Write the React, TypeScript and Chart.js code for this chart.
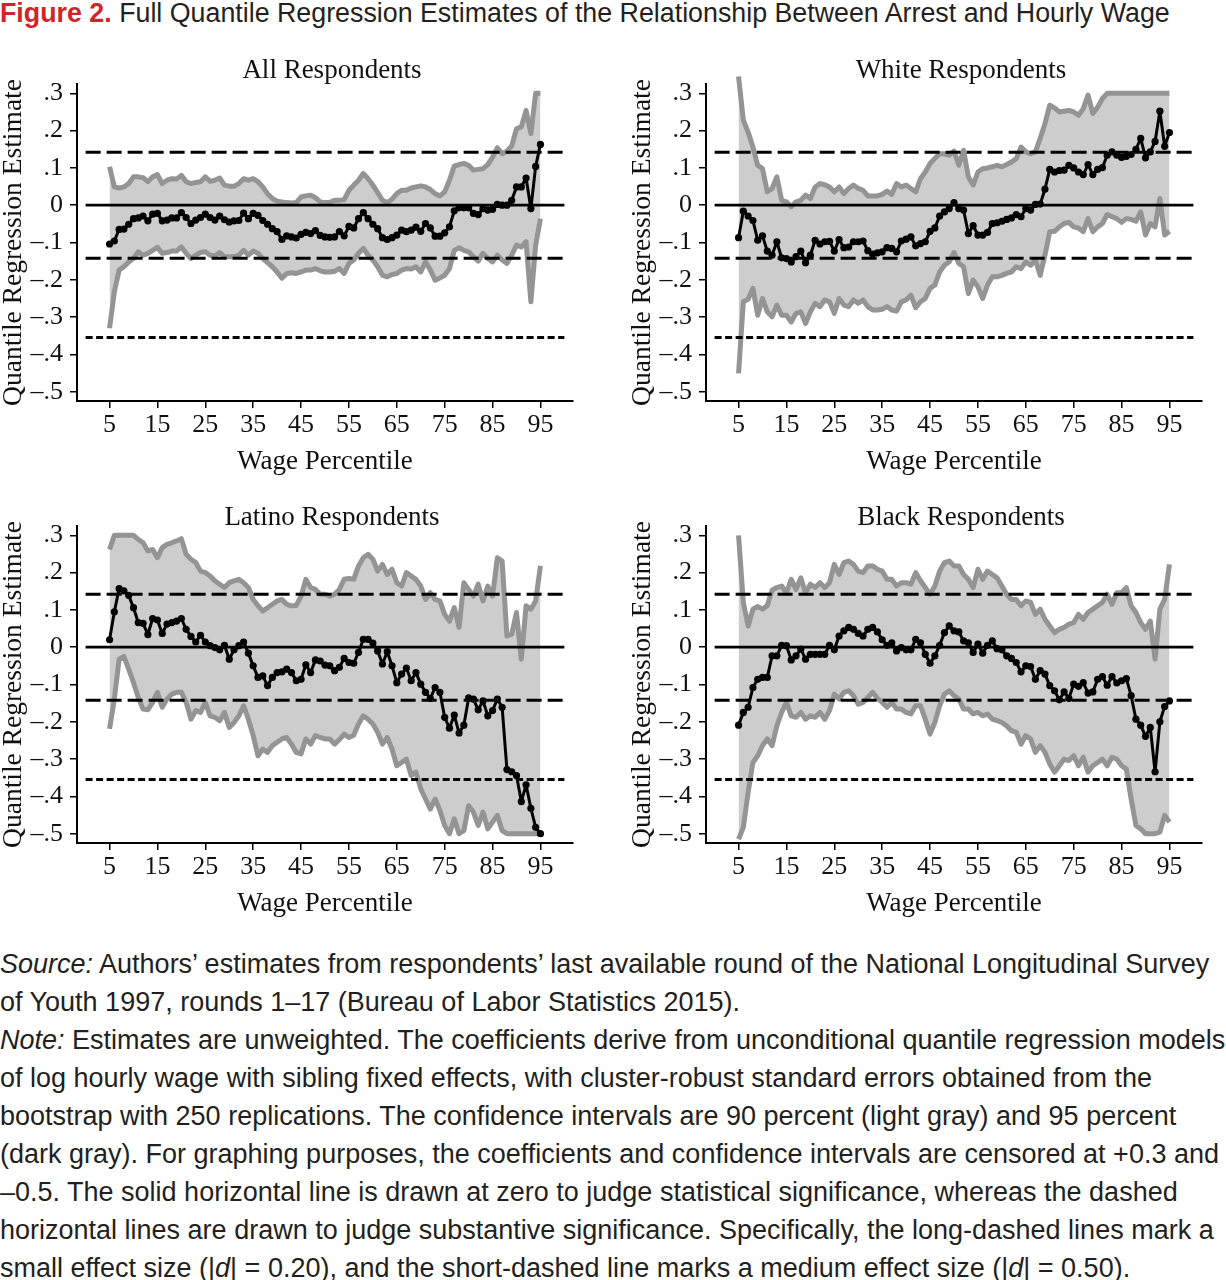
import React, { useEffect, useRef } from "react";
import { Chart, registerables } from "chart.js";

Chart.register(...registerables);

// ---------- data ----------
const percentiles = [
  5, 6, 7, 8, 9, 10, 11, 12, 13, 14,
  15, 16, 17, 18, 19, 20, 21, 22, 23, 24,
  25, 26, 27, 28, 29, 30, 31, 32, 33, 34,
  35, 36, 37, 38, 39, 40, 41, 42, 43, 44,
  45, 46, 47, 48, 49, 50, 51, 52, 53, 54,
  55, 56, 57, 58, 59, 60, 61, 62, 63, 64,
  65, 66, 67, 68, 69, 70, 71, 72, 73, 74,
  75, 76, 77, 78, 79, 80, 81, 82, 83, 84,
  85, 86, 87, 88, 89, 90, 91, 92, 93, 94,
  95,
];

const xTickValues = [5, 15, 25, 35, 45, 55, 65, 75, 85, 95];
const yTickValues = [0.3, 0.2, 0.1, 0, -0.1, -0.2, -0.3, -0.4, -0.5];
const yTickLabels = [".3", ".2", ".1", "0", "\u2013.1", "\u2013.2", "\u2013.3", "\u2013.4", "\u2013.5"];

const refLineSpan = [0, 100];
const zeroLineValue = 0;
const smallEffectValues = [0.142, -0.142];
const mediumEffectValue = -0.355;

const panelTitles = ["All Respondents", "White Respondents", "Latino Respondents", "Black Respondents"];

// All respondents
const allEst = [
  -0.104, -0.096, -0.065, -0.064, -0.051, -0.036, -0.034, -0.029, -0.042, -0.024,
  -0.022, -0.042, -0.040, -0.034, -0.034, -0.020, -0.033, -0.049, -0.040, -0.033,
  -0.024, -0.033, -0.040, -0.029, -0.039, -0.045, -0.042, -0.041, -0.021, -0.036,
  -0.022, -0.027, -0.041, -0.051, -0.063, -0.071, -0.092, -0.082, -0.085, -0.088,
  -0.078, -0.073, -0.076, -0.068, -0.081, -0.085, -0.086, -0.085, -0.071, -0.082,
  -0.057, -0.061, -0.036, -0.020, -0.036, -0.051, -0.063, -0.087, -0.092, -0.087,
  -0.080, -0.067, -0.071, -0.067, -0.059, -0.070, -0.049, -0.061, -0.083, -0.083,
  -0.074, -0.058, -0.015, -0.007, -0.007, -0.007, -0.022, -0.025, -0.009, -0.013,
  -0.011, 0.002, 0.000, 0.000, 0.013, 0.049, 0.049, 0.073, -0.009, 0.104,
  0.163,
];
const allUpper = [
  0.103, 0.049, 0.046, 0.049, 0.058, 0.076, 0.076, 0.074, 0.063, 0.076,
  0.082, 0.058, 0.067, 0.071, 0.070, 0.080, 0.063, 0.058, 0.061, 0.063,
  0.076, 0.064, 0.067, 0.073, 0.054, 0.051, 0.051, 0.058, 0.071, 0.067,
  0.071, 0.063, 0.049, 0.031, 0.018, 0.011, 0.009, 0.007, 0.006, 0.007,
  0.022, 0.025, 0.027, 0.020, 0.009, 0.007, 0.007, 0.013, 0.013, 0.015,
  0.040, 0.054, 0.067, 0.085, 0.071, 0.054, 0.034, 0.013, 0.007, 0.016,
  0.031, 0.040, 0.040, 0.046, 0.049, 0.052, 0.049, 0.042, 0.031, 0.025,
  0.036, 0.067, 0.105, 0.109, 0.112, 0.107, 0.094, 0.096, 0.098, 0.109,
  0.129, 0.154, 0.138, 0.145, 0.159, 0.205, 0.210, 0.254, 0.192, 0.300,
  0.300,
];
const allLower = [
  -0.330, -0.232, -0.174, -0.165, -0.152, -0.143, -0.125, -0.134, -0.129, -0.121,
  -0.113, -0.129, -0.127, -0.123, -0.123, -0.112, -0.129, -0.143, -0.134, -0.127,
  -0.125, -0.134, -0.136, -0.127, -0.138, -0.138, -0.138, -0.134, -0.121, -0.134,
  -0.123, -0.129, -0.143, -0.154, -0.165, -0.179, -0.196, -0.183, -0.181, -0.183,
  -0.179, -0.174, -0.174, -0.170, -0.176, -0.179, -0.179, -0.177, -0.170, -0.183,
  -0.156, -0.147, -0.129, -0.116, -0.134, -0.147, -0.165, -0.188, -0.192, -0.186,
  -0.183, -0.174, -0.170, -0.171, -0.165, -0.179, -0.152, -0.174, -0.201, -0.195,
  -0.188, -0.170, -0.121, -0.114, -0.121, -0.125, -0.138, -0.150, -0.129, -0.143,
  -0.152, -0.134, -0.147, -0.156, -0.134, -0.107, -0.112, -0.098, -0.259, -0.107,
  -0.036,
];

// White respondents
const whiteEst = [
  -0.087, -0.016, -0.029, -0.041, -0.094, -0.082, -0.123, -0.134, -0.098, -0.141,
  -0.143, -0.152, -0.138, -0.123, -0.154, -0.134, -0.094, -0.104, -0.098, -0.097,
  -0.123, -0.092, -0.114, -0.112, -0.098, -0.098, -0.096, -0.122, -0.131, -0.128,
  -0.125, -0.114, -0.116, -0.125, -0.096, -0.091, -0.085, -0.109, -0.103, -0.098,
  -0.070, -0.061, -0.029, -0.018, -0.009, 0.007, -0.009, -0.013, -0.076, -0.055,
  -0.080, -0.080, -0.073, -0.049, -0.047, -0.043, -0.038, -0.034, -0.025, -0.031,
  -0.009, -0.013, 0.002, 0.003, 0.043, 0.096, 0.089, 0.093, 0.094, 0.107,
  0.100, 0.089, 0.082, 0.109, 0.082, 0.096, 0.101, 0.134, 0.143, 0.134,
  0.128, 0.131, 0.136, 0.150, 0.179, 0.127, 0.143, 0.171, 0.252, 0.158,
  0.195,
];
const whiteUpper = [
  0.345, 0.228, 0.196, 0.156, 0.107, 0.098, 0.036, 0.045, 0.076, 0.013,
  0.009, -0.004, 0.009, 0.013, 0.027, 0.018, 0.049, 0.058, 0.055, 0.049,
  0.036, 0.049, 0.031, 0.045, 0.054, 0.045, 0.040, 0.025, 0.025, 0.025,
  0.029, 0.038, 0.029, 0.058, 0.049, 0.054, 0.045, 0.036, 0.071, 0.089,
  0.112, 0.125, 0.138, 0.138, 0.134, 0.145, 0.107, 0.147, 0.076, 0.054,
  0.089, 0.098, 0.100, 0.103, 0.107, 0.103, 0.109, 0.116, 0.125, 0.156,
  0.143, 0.138, 0.143, 0.179, 0.219, 0.268, 0.261, 0.250, 0.252, 0.254,
  0.250, 0.241, 0.259, 0.295, 0.246, 0.263, 0.286, 0.300, 0.300, 0.300,
  0.300, 0.300, 0.300, 0.300, 0.300, 0.300, 0.300, 0.300, 0.300, 0.300,
  0.300,
];
const whiteLower = [
  -0.451, -0.259, -0.252, -0.223, -0.295, -0.250, -0.286, -0.299, -0.268, -0.295,
  -0.295, -0.313, -0.290, -0.286, -0.317, -0.286, -0.263, -0.272, -0.254, -0.259,
  -0.290, -0.250, -0.268, -0.272, -0.254, -0.263, -0.254, -0.272, -0.281, -0.281,
  -0.279, -0.272, -0.281, -0.284, -0.259, -0.254, -0.241, -0.275, -0.259, -0.250,
  -0.223, -0.214, -0.179, -0.161, -0.152, -0.127, -0.156, -0.165, -0.237, -0.201,
  -0.219, -0.250, -0.214, -0.192, -0.192, -0.188, -0.183, -0.179, -0.165, -0.170,
  -0.152, -0.161, -0.147, -0.188, -0.134, -0.071, -0.070, -0.058, -0.049, -0.046,
  -0.058, -0.061, -0.071, -0.036, -0.071, -0.058, -0.049, -0.025, -0.031, -0.036,
  -0.046, -0.036, -0.038, -0.043, -0.018, -0.080, -0.049, -0.058, 0.018, -0.080,
  -0.070,
];

// Latino respondents
const latinoEst = [
  0.020, 0.095, 0.157, 0.151, 0.139, 0.106, 0.066, 0.064, 0.034, 0.077,
  0.073, 0.037, 0.062, 0.066, 0.070, 0.077, 0.048, 0.029, 0.014, 0.032,
  0.014, 0.004, -0.001, -0.007, 0.005, -0.032, -0.007, 0.004, 0.014, -0.016,
  -0.050, -0.081, -0.077, -0.103, -0.081, -0.068, -0.066, -0.059, -0.068, -0.090,
  -0.086, -0.047, -0.068, -0.034, -0.037, -0.048, -0.050, -0.063, -0.054, -0.030,
  -0.041, -0.043, -0.014, 0.021, 0.021, 0.011, -0.010, -0.045, -0.012, -0.050,
  -0.095, -0.072, -0.056, -0.090, -0.068, -0.099, -0.121, -0.137, -0.108, -0.121,
  -0.188, -0.217, -0.182, -0.230, -0.209, -0.136, -0.139, -0.168, -0.144, -0.184,
  -0.170, -0.139, -0.161, -0.328, -0.334, -0.344, -0.414, -0.369, -0.432, -0.483,
  -0.500,
];
const latinoUpper = [
  0.262, 0.300, 0.300, 0.300, 0.300, 0.300, 0.289, 0.280, 0.258, 0.262,
  0.240, 0.267, 0.276, 0.280, 0.285, 0.291, 0.249, 0.236, 0.227, 0.204,
  0.200, 0.191, 0.178, 0.169, 0.160, 0.173, 0.178, 0.182, 0.173, 0.160,
  0.128, 0.111, 0.097, 0.106, 0.115, 0.124, 0.128, 0.115, 0.111, 0.112,
  0.137, 0.182, 0.160, 0.155, 0.142, 0.142, 0.137, 0.142, 0.155, 0.182,
  0.184, 0.182, 0.218, 0.240, 0.249, 0.236, 0.204, 0.222, 0.195, 0.209,
  0.173, 0.164, 0.200, 0.191, 0.182, 0.164, 0.128, 0.146, 0.128, 0.124,
  0.088, 0.070, 0.106, 0.053, 0.173, 0.155, 0.137, 0.169, 0.124, 0.164,
  0.137, 0.240, 0.231, 0.030, 0.035, 0.093, -0.032, 0.111, 0.102, 0.124,
  0.218,
];
const latinoLower = [
  -0.219, -0.139, -0.032, -0.025, -0.059, -0.095, -0.135, -0.166, -0.168, -0.148,
  -0.121, -0.161, -0.139, -0.126, -0.121, -0.121, -0.148, -0.193, -0.170, -0.175,
  -0.148, -0.184, -0.188, -0.197, -0.175, -0.215, -0.202, -0.184, -0.157, -0.193,
  -0.237, -0.291, -0.273, -0.282, -0.264, -0.255, -0.246, -0.242, -0.260, -0.282,
  -0.286, -0.246, -0.260, -0.237, -0.242, -0.246, -0.246, -0.260, -0.248, -0.233,
  -0.242, -0.236, -0.206, -0.184, -0.193, -0.206, -0.228, -0.260, -0.242, -0.273,
  -0.318, -0.309, -0.300, -0.344, -0.335, -0.380, -0.407, -0.434, -0.407, -0.438,
  -0.478, -0.500, -0.460, -0.500, -0.492, -0.425, -0.442, -0.478, -0.442, -0.487,
  -0.469, -0.451, -0.492, -0.500, -0.500, -0.500, -0.500, -0.500, -0.500, -0.500,
  -0.500,
];

// Black respondents
const blackEst = [
  -0.209, -0.175, -0.161, -0.108, -0.086, -0.081, -0.081, -0.023, -0.023, 0.005,
  0.004, -0.034, -0.023, -0.005, -0.032, -0.019, -0.019, -0.019, -0.019, 0.005,
  -0.007, 0.030, 0.044, 0.053, 0.048, 0.037, 0.030, 0.048, 0.053, 0.041,
  0.020, 0.005, 0.012, -0.010, -0.001, -0.007, -0.007, 0.021, 0.012, -0.019,
  -0.043, -0.023, 0.005, 0.039, 0.057, 0.044, 0.041, 0.017, 0.012, -0.014,
  0.008, -0.016, 0.005, 0.017, -0.004, -0.007, -0.023, -0.030, -0.041, -0.066,
  -0.050, -0.052, -0.086, -0.063, -0.072, -0.103, -0.117, -0.141, -0.120, -0.137,
  -0.099, -0.105, -0.095, -0.123, -0.120, -0.086, -0.079, -0.102, -0.079, -0.096,
  -0.090, -0.084, -0.130, -0.193, -0.209, -0.239, -0.215, -0.334, -0.200, -0.159,
  -0.144,
];
const blackUpper = [
  0.300, 0.120, 0.057, 0.102, 0.109, 0.102, 0.112, 0.153, 0.160, 0.164,
  0.146, 0.182, 0.155, 0.186, 0.146, 0.169, 0.160, 0.173, 0.160, 0.173,
  0.222, 0.195, 0.227, 0.231, 0.222, 0.204, 0.200, 0.218, 0.218, 0.209,
  0.204, 0.182, 0.182, 0.164, 0.173, 0.173, 0.169, 0.200, 0.178, 0.160,
  0.142, 0.164, 0.204, 0.227, 0.231, 0.218, 0.218, 0.195, 0.182, 0.160,
  0.209, 0.182, 0.204, 0.195, 0.186, 0.164, 0.142, 0.128, 0.128, 0.111,
  0.124, 0.120, 0.088, 0.102, 0.075, 0.057, 0.039, 0.048, 0.053, 0.062,
  0.066, 0.088, 0.075, 0.093, 0.102, 0.111, 0.120, 0.142, 0.115, 0.146,
  0.146, 0.160, 0.111, 0.093, 0.066, 0.048, 0.070, -0.032, 0.102, 0.128,
  0.222,
];
const blackLower = [
  -0.515, -0.483, -0.389, -0.309, -0.291, -0.264, -0.246, -0.264, -0.211, -0.175,
  -0.148, -0.184, -0.188, -0.175, -0.193, -0.184, -0.188, -0.175, -0.193, -0.170,
  -0.126, -0.139, -0.121, -0.117, -0.130, -0.153, -0.148, -0.135, -0.121, -0.137,
  -0.148, -0.161, -0.148, -0.166, -0.166, -0.175, -0.179, -0.157, -0.157, -0.193,
  -0.233, -0.202, -0.157, -0.126, -0.117, -0.130, -0.139, -0.166, -0.166, -0.179,
  -0.175, -0.184, -0.179, -0.193, -0.197, -0.202, -0.211, -0.224, -0.228, -0.260,
  -0.237, -0.246, -0.282, -0.264, -0.282, -0.313, -0.335, -0.318, -0.300, -0.304,
  -0.291, -0.318, -0.295, -0.335, -0.318, -0.309, -0.300, -0.318, -0.295, -0.300,
  -0.318, -0.327, -0.407, -0.478, -0.487, -0.500, -0.500, -0.500, -0.496, -0.451,
  -0.469,
];

// ---------- styling ----------
const SERIF = "'Liberation Serif', 'Times New Roman', serif";
const SANS = "'Liberation Sans', Arial, sans-serif";
const CANVAS_W = 597;
const CANVAS_H = 440;

const footLines: React.ReactNode[] = [
  <><i>Source:</i> Authors’ estimates from respondents’ last available round of the National Longitudinal Survey</>,
  <>of Youth 1997, rounds 1–17 (Bureau of Labor Statistics 2015).</>,
  <><i>Note:</i> Estimates are unweighted. The coefficients derive from unconditional quantile regression models</>,
  <>of log hourly wage with sibling fixed effects, with cluster-robust standard errors obtained from the</>,
  <>bootstrap with 250 replications. The confidence intervals are 90 percent (light gray) and 95 percent</>,
  <>(dark gray). For graphing purposes, the coefficients and confidence intervals are censored at +0.3 and</>,
  <>–0.5. The solid horizontal line is drawn at zero to judge statistical significance, whereas the dashed</>,
  <>horizontal lines are drawn to judge substantive significance. Specifically, the long-dashed lines mark a</>,
  <>small effect size (|<i>d</i>| = 0.20), and the short-dashed line marks a medium effect size (|<i>d</i>| = 0.50).</>,
];

function toPoints(values: number[]) {
  return percentiles.map((p, i) => ({ x: p, y: values[i] }));
}
function hLine(y: number) {
  return refLineSpan.map((x) => ({ x, y }));
}
function yLabel(v: number) {
  const i = yTickValues.findIndex((t) => Math.abs(t - v) < 1e-6);
  return i >= 0 ? yTickLabels[i] : "";
}

type PanelProps = {
  title: string;
  est: number[];
  upper: number[];
  lower: number[];
  left: number;
  top: number;
  titleTop: number;
};

function Panel({ title, est, upper, lower, left, top, titleTop }: PanelProps) {
  const ref = useRef<HTMLCanvasElement>(null);
  useEffect(() => {
    if (!ref.current) return;
    const band = "rgb(148,148,148)";
    const chart = new Chart(ref.current, {
      type: "line",
      data: {
        datasets: [
          {
            label: "upper",
            data: toPoints(upper),
            borderColor: band,
            borderWidth: 5,
            borderJoinStyle: "round",
            pointRadius: 0,
            fill: "+1",
            backgroundColor: "rgb(205,205,205)",
            order: 10,
            clip: false,
          } as any,
          {
            label: "lower",
            data: toPoints(lower),
            borderColor: band,
            borderWidth: 5,
            borderJoinStyle: "round",
            pointRadius: 0,
            fill: false,
            order: 9,
            clip: false,
          },
          {
            label: "zero",
            data: hLine(zeroLineValue),
            borderColor: "#000",
            borderWidth: 2.8,
            pointRadius: 0,
            fill: false,
            order: 3,
          },
          ...smallEffectValues.map((v) => ({
            label: "small",
            data: hLine(v),
            borderColor: "#000",
            borderWidth: 3,
            borderDash: [15, 6],
            pointRadius: 0,
            fill: false,
            order: 2,
          })),
          {
            label: "medium",
            data: hLine(mediumEffectValue),
            borderColor: "#000",
            borderWidth: 3,
            borderDash: [7, 3.5],
            pointRadius: 0,
            fill: false,
            order: 2,
          },
          {
            label: "estimate",
            data: toPoints(est),
            borderColor: "#000",
            borderWidth: 3,
            borderJoinStyle: "round",
            pointRadius: 3.6,
            pointBackgroundColor: "#000",
            pointBorderWidth: 0,
            fill: false,
            order: 0,
          },
        ],
      },
      options: {
        responsive: false,
        animation: false,
        events: [],
        layout: { padding: { top: 38, left: 0, right: 24, bottom: 0 } },
        plugins: { legend: { display: false }, tooltip: { enabled: false }, title: { display: false } },
        elements: { line: { tension: 0 } },
        scales: {
          x: {
            type: "linear",
            min: -1.8,
            max: 101.8,
            afterBuildTicks: (s: any) => {
              s.ticks = xTickValues.map((v) => ({ value: v }));
            },
            afterFit: (s: any) => {
              s.height = 85;
            },
            grid: { display: true, drawOnChartArea: false, drawTicks: true, tickLength: 7, color: "#000", lineWidth: 1.5 },
            border: { display: true, color: "#000", width: 2 },
            ticks: {
              font: { family: SERIF, size: 26 },
              color: "#111",
              padding: 2,
              maxRotation: 0,
              autoSkip: false,
              callback: (v: any) => String(v),
            },
            title: {
              display: true,
              text: "Wage Percentile",
              font: { family: SERIF, size: 27 },
              color: "#111",
              padding: { top: 0, bottom: 8 },
            },
          },
          y: {
            type: "linear",
            min: -0.525,
            max: 0.325,
            afterBuildTicks: (s: any) => {
              s.ticks = yTickValues.map((v) => ({ value: v }));
            },
            afterFit: (s: any) => {
              s.width = 77;
            },
            grid: { display: true, drawOnChartArea: false, drawTicks: true, tickLength: 7, color: "#000", lineWidth: 1.5 },
            border: { display: true, color: "#000", width: 2 },
            ticks: {
              font: { family: SERIF, size: 26 },
              color: "#111",
              padding: 7,
              autoSkip: false,
              callback: (v: any) => yLabel(Number(v)),
            },
            title: {
              display: true,
              text: "Quantile Regression Estimate",
              font: { family: SERIF, size: 27.5, lineHeight: 1 },
              color: "#111",
              padding: { top: 0, bottom: 0 },
            },
          },
        },
      } as any,
    });
    return () => chart.destroy();
  }, []);

  return (
    <>
      <canvas
        ref={ref}
        width={CANVAS_W}
        height={CANVAS_H}
        style={{ position: "absolute", left, top, width: CANVAS_W, height: CANVAS_H }}
      />
      <div
        style={{
          position: "absolute",
          left: left + 332 - 200,
          top: titleTop,
          width: 400,
          textAlign: "center",
          fontFamily: SERIF,
          fontSize: 27,
          lineHeight: "32px",
          color: "#111",
          whiteSpace: "nowrap",
        }}
      >
        {title}
      </div>
    </>
  );
}

export default function App() {
  return (
    <div
      style={{
        position: "absolute",
        left: 0,
        top: 0,
        width: 1226,
        height: 1280,
        overflow: "hidden",
        background: "#fff",
      }}
    >
      <div
        style={{
          position: "absolute",
          left: 0,
          top: -2,
          fontFamily: SANS,
          fontSize: 26.8,
          lineHeight: "30px",
          color: "#231f20",
          whiteSpace: "nowrap",
        }}
      >
        <span style={{ color: "#d1232a", fontWeight: 700 }}>Figure 2.</span> Full Quantile Regression Estimates of the
        Relationship Between Arrest and Hourly Wage
      </div>

      <Panel title={panelTitles[0]} est={allEst} upper={allUpper} lower={allLower} left={0} top={46} titleTop={53} />
      <Panel title={panelTitles[1]} est={whiteEst} upper={whiteUpper} lower={whiteLower} left={629} top={46} titleTop={53} />
      <Panel title={panelTitles[2]} est={latinoEst} upper={latinoUpper} lower={latinoLower} left={0} top={488} titleTop={500} />
      <Panel title={panelTitles[3]} est={blackEst} upper={blackUpper} lower={blackLower} left={629} top={488} titleTop={500} />

      <div
        style={{
          position: "absolute",
          left: 0,
          top: 945,
          fontFamily: SANS,
          fontSize: 27,
          lineHeight: "38px",
          color: "#231f20",
        }}
      >
        {footLines.map((l, i) => (
          <div key={i} style={{ whiteSpace: "nowrap" }}>
            {l}
          </div>
        ))}
      </div>
    </div>
  );
}
